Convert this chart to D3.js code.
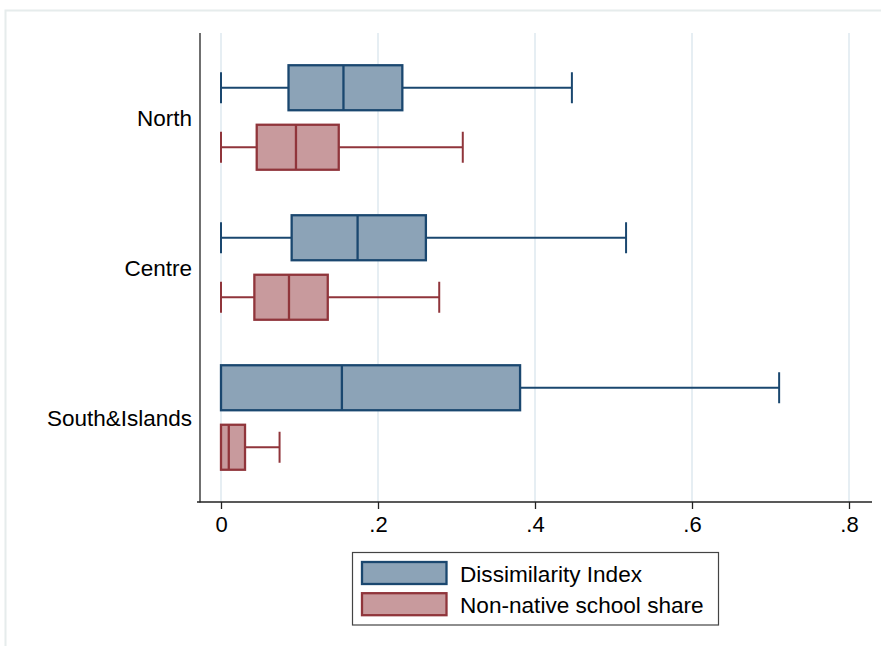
<!DOCTYPE html>
<html>
<head>
<meta charset="utf-8">
<script src="https://cdn.jsdelivr.net/npm/d3@7"></script>
<style>
  html, body { margin: 0; padding: 0; background: #fff; }
  svg { display: block; font-family: "Liberation Sans", Arial, Helvetica, sans-serif; }
</style>
</head>
<body>
<svg id="chart" width="881" height="646"></svg>
<script>
// Regions shown on the vertical axis, top to bottom
const regions = ["North", "Centre", "South&Islands"];

// Box-plot series (one box per region for each)
const seriesNames = ["Dissimilarity Index", "Non-native school share"];

// Five-number summaries per region: [min (lower adjacent), q1, median, q3, max (upper adjacent)]
const dissimilarity = [
  [0, 0.086, 0.156, 0.231, 0.447],
  [0, 0.090, 0.174, 0.261, 0.516],
  [0, 0.000, 0.154, 0.381, 0.711]
];
const nonNativeShare = [
  [0, 0.0455, 0.0955, 0.150, 0.308],
  [0, 0.0425, 0.0866, 0.136, 0.278],
  [0, 0.0000, 0.0099, 0.0306, 0.0746]
];

// Axis ticks and their printed labels
const xTicks = [0, 0.2, 0.4, 0.6, 0.8];
const xTickLabels = ["0", ".2", ".4", ".6", ".8"];

const seriesStroke = ["#1a476f", "#90353b"];
const seriesFill = ["#8ca3b7", "#c89a9d"];

const svg = d3.select("#chart");

// Outer graph-region frame (top and left edges visible)
svg.append("rect")
  .attr("x", 5.5).attr("y", 10.5)
  .attr("width", 900).attr("height", 700)
  .attr("fill", "none")
  .attr("stroke", "#e6ecec")
  .attr("stroke-width", 2);

const plot = { left: 200, right: 872, top: 33, bottom: 502 };

const x = d3.scaleLinear().domain([0, 0.8]).range([221, 849]);
const y = d3.scalePoint().domain(regions).range([plot.top, plot.bottom]).padding(0.5633);
const offset = d3.scalePoint().domain(seriesNames).range([-29.75, 29.75]);

const boxH = 45, capH = 31;

// Vertical grid lines
svg.append("g").selectAll("line")
  .data(xTicks)
  .join("line")
  .attr("x1", d => x(d)).attr("x2", d => x(d))
  .attr("y1", plot.top).attr("y2", plot.bottom)
  .attr("stroke", "#e6eef3")
  .attr("stroke-width", 2);

// Box plots
const seriesData = [dissimilarity, nonNativeShare];
seriesData.forEach((rows, si) => {
  const name = seriesNames[si];
  const g = svg.append("g");
  rows.forEach((s, ri) => {
    const cy = y(regions[ri]) + offset(name);
    const [mn, q1, md, q3, mx] = s;
    const stroke = seriesStroke[si];
    // whiskers
    g.append("line")
      .attr("x1", x(mn)).attr("x2", x(q1)).attr("y1", cy).attr("y2", cy)
      .attr("stroke", stroke).attr("stroke-width", 2);
    g.append("line")
      .attr("x1", x(q3)).attr("x2", x(mx)).attr("y1", cy).attr("y2", cy)
      .attr("stroke", stroke).attr("stroke-width", 2);
    // whisker caps
    [mn, mx].forEach(v => {
      g.append("line")
        .attr("x1", x(v)).attr("x2", x(v))
        .attr("y1", cy - capH / 2).attr("y2", cy + capH / 2)
        .attr("stroke", stroke).attr("stroke-width", 2);
    });
    // box
    g.append("rect")
      .attr("x", x(q1)).attr("y", cy - boxH / 2)
      .attr("width", x(q3) - x(q1)).attr("height", boxH)
      .attr("fill", seriesFill[si])
      .attr("stroke", stroke).attr("stroke-width", 2.3);
    // median
    g.append("line")
      .attr("x1", x(md)).attr("x2", x(md))
      .attr("y1", cy - boxH / 2).attr("y2", cy + boxH / 2)
      .attr("stroke", stroke).attr("stroke-width", 2.3);
  });
});

// Axes
const xAxis = d3.axisBottom(x)
  .tickValues(xTicks)
  .tickFormat((d, i) => xTickLabels[i])
  .tickSize(7)
  .tickPadding(7);
const gx = svg.append("g")
  .attr("transform", `translate(0,${plot.bottom})`)
  .call(xAxis);
gx.select(".domain").remove();
gx.append("line")
  .attr("x1", 197).attr("x2", plot.right)
  .attr("y1", 0).attr("y2", 0)
  .attr("stroke", "#222").attr("stroke-width", 1.3);
gx.selectAll(".tick line").attr("stroke", "#222").attr("stroke-width", 1.3);
gx.selectAll(".tick text")
  .attr("font-size", 22)
  .attr("fill", "#000")
  .attr("font-family", "'Liberation Sans', Arial, sans-serif");

const yAxis = d3.axisLeft(y).tickSize(0).tickPadding(8);
const gy = svg.append("g")
  .attr("transform", `translate(${plot.left},0)`)
  .call(yAxis);
gy.select(".domain").remove();
gy.append("line")
  .attr("x1", 0).attr("x2", 0)
  .attr("y1", plot.top).attr("y2", plot.bottom + 0.6)
  .attr("stroke", "#222").attr("stroke-width", 1.3);
gy.selectAll(".tick text")
  .attr("font-size", 22.5)
  .attr("fill", "#000")
  .attr("dy", "0.36em")
  .attr("font-family", "'Liberation Sans', Arial, sans-serif");

// Legend
const legend = svg.append("g");
legend.append("rect")
  .attr("x", 352.5).attr("y", 552.5)
  .attr("width", 366).attr("height", 72.5)
  .attr("fill", "#fff")
  .attr("stroke", "#444").attr("stroke-width", 1.2);
const legendRow = d3.scalePoint().domain(seriesNames).range([573, 604.2]);
seriesNames.forEach((name, i) => {
  const cy = legendRow(name);
  legend.append("rect")
    .attr("x", 362).attr("y", cy - 11)
    .attr("width", 84.5).attr("height", 22)
    .attr("fill", seriesFill[i])
    .attr("stroke", seriesStroke[i]).attr("stroke-width", 2.3);
  legend.append("text")
    .attr("x", 460).attr("y", cy + 8.5)
    .attr("font-size", 22.6)
    .attr("fill", "#000")
    .text(name);
});
</script>
</body>
</html>
